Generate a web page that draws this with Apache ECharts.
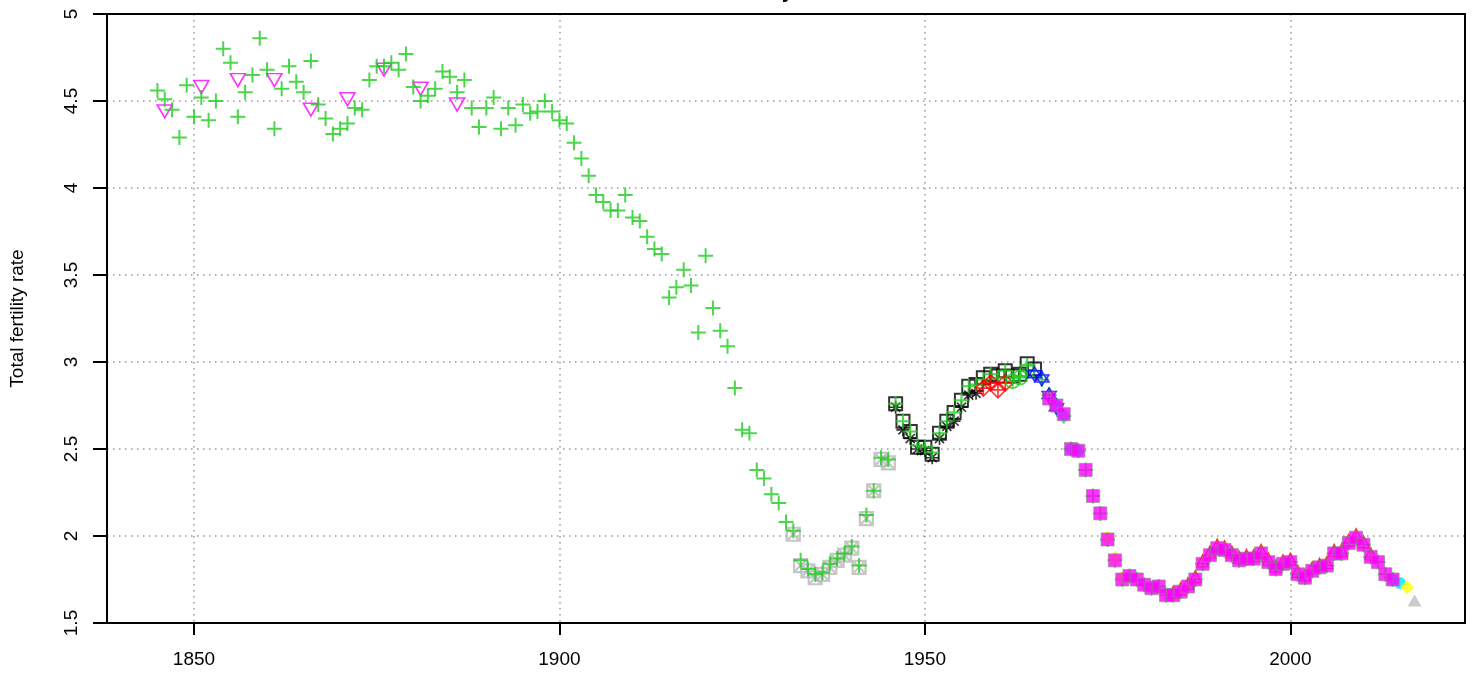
<!DOCTYPE html>
<html>
<head>
<meta charset="utf-8">
<script src="https://cdn.jsdelivr.net/npm/echarts@6/dist/echarts.min.js"></script>
<style>html,body{margin:0;padding:0;background:#fff;}#chart{width:1478px;height:678px;}</style>
</head>
<body>
<div id="chart"></div>
<script>
// ---- data ----
const titleText = "Norway";
const yAxisTitle = "Total fertility rate";
const xTickValues = [1850, 1900, 1950, 2000];

// green "+" series, consecutive years from plusStart
const plusStart = 1845;
const plusValues = [
  4.56,4.51,4.45,4.29,4.59,4.41,4.52,4.39,4.50,4.80,
  4.72,4.41,4.55,4.65,4.86,4.68,4.34,4.57,4.70,4.61,
  4.55,4.73,4.48,4.40,4.31,4.34,4.37,4.46,4.45,4.62,
  4.70,4.70,4.72,4.68,4.77,4.58,4.50,4.53,4.57,4.67,
  4.64,4.55,4.62,4.46,4.35,4.46,4.52,4.34,4.46,4.36,
  4.48,4.43,4.44,4.50,4.44,4.39,4.37,4.26,4.17,4.07,
  3.96,3.92,3.87,3.87,3.96,3.83,3.81,3.72,3.65,3.62,
  3.37,3.43,3.53,3.44,3.17,3.61,3.31,3.18,3.09,2.85,
  2.61,2.59,2.38,2.33,2.24,2.19,2.08,2.03,1.86,1.81,
  1.78,1.79,1.84,1.87,1.90,1.94,1.83,2.12,2.26,2.45,
  2.44,2.76,2.66,2.60,2.52,2.51,2.48,2.59,2.66,2.71,
  2.78,2.86,2.87,2.90,2.93,2.91,2.95,2.91,2.92,2.98,
  2.95,2.90,2.81,2.75,2.69,2.50,2.49,2.38,2.23,2.13,
  1.98,1.86,1.75,1.77,1.75,1.72,1.70,1.71,1.66,1.66,
  1.68,1.71,1.75,1.84,1.89,1.93,1.92,1.89,1.86,1.87,
  1.87,1.90,1.85,1.81,1.84,1.85,1.78,1.76,1.80,1.82,
  1.83,1.90,1.90,1.96,1.99,1.95,1.88,1.85,1.78,1.75
];

const triYears = [1846,1851,1856,1861,1866,1871,1876,1881,1886];
const triValues = [4.44,4.58,4.62,4.62,4.45,4.51,4.68,4.57,4.48];

const graySqYears = [1932,1933,1934,1935,1936,1937,1938,1939,1940,1941,1942,1943,1944,1945];
const graySqValues = [2.01,1.83,1.80,1.76,1.78,1.82,1.86,1.89,1.93,1.82,2.10,2.26,2.44,2.42];

const blackSqYears = [1946,1947,1948,1949,1950,1951,1952,1953,1954,1955,1956,1957,1958,1959,1960,1961,1962,1963,1964,1965];
const blackSqValues = [2.76,2.66,2.60,2.51,2.51,2.47,2.59,2.66,2.71,2.78,2.86,2.87,2.91,2.93,2.92,2.95,2.92,2.93,2.99,2.96];

const starYears = [1946,1947,1948,1949,1950,1951,1952,1953,1954,1955,1956,1957];
const starValues = [2.74,2.61,2.56,2.50,2.49,2.45,2.56,2.63,2.66,2.74,2.81,2.82];

const diamondYears = [1958,1959,1960,1961];
const diamondValues = [2.85,2.88,2.84,2.88];

const circleYears = [1962,1963,1964];
const circleValues = [2.89,2.91,2.95];

const blueYears = [1965,1966,1967,1968];
const blueValues = [2.93,2.905,2.81,2.74];

const cyanYears = [1968,1969,1970,1971,2014,2015];
const cyanValues = [2.75,2.69,2.50,2.49,1.75,1.73];

const redTriYears = [1984,1985,1986,1987,1988,1989,1990,1991,1992,1993,1994,1995,1996,1997,1998,1999,2000,2001,2002,2003,2004,2005,2006,2007,2008,2009,2010,2011];
const redTriValues = [1.66,1.68,1.71,1.75,1.84,1.89,1.93,1.92,1.89,1.86,1.87,1.87,1.90,1.85,1.81,1.84,1.85,1.78,1.76,1.80,1.82,1.83,1.90,1.90,1.96,1.99,1.95,1.88];

const yellowYears = [1975,1976,1977,2016];
const yellowValues = [1.99,1.875,1.76,1.705];

const magStart = 1967;
const magValues = [
  2.79,2.75,2.70,2.50,2.49,2.38,2.23,2.13,1.98,1.86,
  1.75,1.77,1.75,1.72,1.70,1.71,1.66,1.66,1.68,1.71,
  1.75,1.84,1.89,1.93,1.92,1.89,1.86,1.87,1.87,1.90,
  1.85,1.81,1.84,1.85,1.78,1.76,1.80,1.82,1.83,1.90,
  1.90,1.96,1.99,1.95,1.88,1.85,1.78,1.75
];

const grayTriYears = [2017];
const grayTriValues = [1.63];

// ---- helpers ----
function pairs(xs, ys) { return xs.map((x, i) => [x, ys[i]]); }
function seq(start, ys) { return ys.map((y, i) => [start + i, y]); }

const P = {
  plus: 'path://M0,5L10,5M5,0L5,10',
  aster: 'path://M0,5L10,5M5,0L5,10M1.5,1.5L8.5,8.5M1.5,8.5L8.5,1.5',
  square: 'path://M0,0L10,0L10,10L0,10Z',
  squareX: 'path://M0,0L10,0L10,10L0,10ZM0,0L10,10M0,10L10,0',
  diamondPlus: 'path://M5,0L10,5L5,10L0,5ZM0,5L10,5M5,0L5,10',
  circlePlus: 'path://M0,5A5,5 0 1,0 10,5A5,5 0 1,0 0,5ZM0,5L10,5M5,0L5,10',
  david: 'path://M5,0L10,7.5L0,7.5ZM0,2.5L10,2.5L5,10Z',
  triDown: 'path://M0,0L10,0L5,8.66Z',
  triUp: 'path://M5,0L10,8.66L0,8.66Z',
  diamond: 'path://M5,0L10,5L5,10L0,5Z'
};

function outline(data, symbol, size, color, width, offset) {
  return { type: 'scatter', data: data, symbol: symbol, symbolSize: size, silent: true,
    symbolOffset: offset || [0, 0],
    itemStyle: { color: 'rgba(0,0,0,0)', borderColor: color, borderWidth: width || 1.6 } };
}
function filled(data, symbol, size, color, border, bw) {
  return { type: 'scatter', data: data, symbol: symbol, symbolSize: size, silent: true,
    itemStyle: { color: color, borderColor: border || color, borderWidth: bw || 0 } };
}

const FONT = "'Liberation Sans', Arial, sans-serif";
const chart = echarts.init(document.getElementById('chart'), null, { renderer: 'canvas' });

const frameAxis = { show: true, onZero: false, lineStyle: { color: '#000', width: 2 } };

const option = {
  animation: false,
  backgroundColor: '#fff',
  title: { text: titleText, left: 716, top: -23,
    textStyle: { fontFamily: FONT, fontSize: 20, fontWeight: 'bold', color: '#000' } },
  grid: { left: 106, right: 13, top: 14, bottom: 55, show: false },
  xAxis: [{
    type: 'value', min: 1838.1, max: 2023.9,
    axisLine: frameAxis,
    axisTick: { show: true, customValues: xTickValues, length: 12, lineStyle: { color: '#000', width: 2 } },
    axisLabel: { customValues: xTickValues, formatter: v => String(v), fontFamily: FONT, fontSize: 19, color: '#000', margin: 27 },
    splitLine: { show: true, lineStyle: { color: '#999', width: 1.5, type: [1.5, 4.5] } }
  }, {
    type: 'value', position: 'top', min: 1838.1, max: 2023.9, z: 5,
    axisLine: frameAxis, axisTick: { show: false }, axisLabel: { show: false }, splitLine: { show: false }
  }],
  yAxis: [{
    type: 'value', min: 1.5, max: 5, interval: 0.5,
    name: yAxisTitle, nameLocation: 'middle', nameGap: 80, nameRotate: 90,
    nameTextStyle: { fontFamily: FONT, fontSize: 19, color: '#000' },
    axisLine: frameAxis,
    axisTick: { show: true, length: 14, lineStyle: { color: '#000', width: 2 } },
    axisLabel: { rotate: 90, fontFamily: FONT, fontSize: 19, color: '#000', margin: 26 },
    splitLine: { show: true, lineStyle: { color: '#999', width: 1.5, type: [1.5, 4.5] } }
  }, {
    type: 'value', position: 'right', min: 1.5, max: 5, z: 5,
    axisLine: frameAxis, axisTick: { show: false }, axisLabel: { show: false }, splitLine: { show: false }
  }],
  series: [
    outline(pairs(blackSqYears, blackSqValues), P.square, 13, '#000', 2),
    outline(pairs(starYears, starValues), P.aster, 13, '#000', 1.6),
    outline(pairs(graySqYears, graySqValues), P.squareX, 13, '#b8b8b8', 2.2),
    outline(pairs(triYears, triValues), P.triDown, [15, 13], '#ff00ff', 1.6),
    outline(seq(plusStart, plusValues), P.plus, 15, '#1fcc1f', 2),
    outline(pairs(diamondYears, diamondValues), P.diamondPlus, 16, '#ff0000', 1.6),
    outline(pairs(circleYears, circleValues), P.circlePlus, 14, '#1fcc1f', 1.6),
    outline(pairs(blueYears, blueValues), P.david, 14, '#0000ff', 1.6),
    filled(pairs(cyanYears, cyanValues), 'circle', 12, '#00e5ff'),
    outline(pairs(redTriYears, redTriValues), P.triUp, [12, 12], '#ff0000', 1.4, [0, -3]),
    filled(pairs(yellowYears, yellowValues), P.diamond, 14, '#ffff00'),
    filled(seq(magStart, magValues), P.square, 13, '#ff00ff', '#888', 0.8),
    filled(pairs(grayTriYears, grayTriValues), P.triUp, [14, 12], '#bebebe')
  ]
};
chart.setOption(option);
</script>
</body>
</html>
